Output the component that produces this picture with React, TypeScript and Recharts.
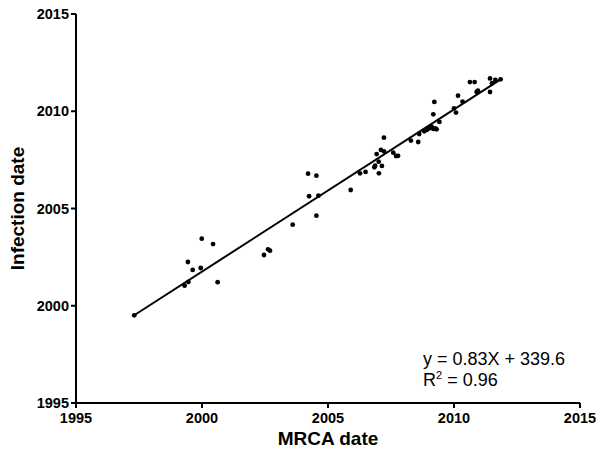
import React from 'react';
import { ScatterChart, Scatter, XAxis, YAxis, ReferenceLine } from 'recharts';

const mrcaDates = [
  1997.31, 1999.31, 1999.46, 1999.44, 1999.63, 1999.95, 1999.99, 2000.44, 2000.62,
  2002.46, 2002.62, 2002.70, 2003.60, 2004.21, 2004.54, 2004.25, 2004.62, 2004.54,
  2005.90, 2006.27, 2006.49, 2006.84, 2006.87, 2007.02, 2007.14, 2006.93, 2007.01,
  2007.10, 2007.22, 2007.22, 2007.59, 2007.70, 2007.78, 2008.29, 2008.58, 2008.62,
  2008.82, 2008.92, 2009.02, 2009.11, 2009.18, 2009.26, 2009.31, 2009.18, 2009.22,
  2009.42, 2010.00, 2010.08, 2010.16, 2010.34, 2010.63, 2010.82, 2010.90, 2010.95,
  2011.43, 2011.43, 2011.51, 2011.64, 2011.85,
];
const infectionDates = [
  1999.51, 2001.03, 2001.22, 2002.25, 2001.84, 2001.94, 2003.45, 2003.17, 2001.21,
  2002.61, 2002.90, 2002.83, 2004.17, 2006.79, 2006.69, 2005.63, 2005.66, 2004.63,
  2005.95, 2006.81, 2006.88, 2007.12, 2007.20, 2006.81, 2007.19, 2007.80, 2007.41,
  2008.01, 2007.94, 2008.64, 2007.87, 2007.70, 2007.71, 2008.49, 2008.42, 2008.83,
  2008.97, 2009.04, 2009.12, 2009.21, 2009.09, 2009.12, 2009.07, 2009.84, 2010.48,
  2009.45, 2010.15, 2009.93, 2010.80, 2010.49, 2011.50, 2011.50, 2010.99, 2011.06,
  2011.69, 2010.99, 2011.44, 2011.61, 2011.64,
];
const fitX = [1997.31, 2011.85];
const fitY = [1999.51, 2011.64];
const ticks = [1995, 2000, 2005, 2010, 2015];

const points = mrcaDates.map((x, i) => ({ x, y: infectionDates[i] }));

const FONT = '"Liberation Sans", Arial, sans-serif';
const tickStyle = { fill: '#000', fontSize: 14.5, fontWeight: 'bold', fontFamily: FONT };

const Dot = (props: any) => <circle cx={props.cx} cy={props.cy} r={2.4} fill="#000" />;

export default function App() {
  return (
    <div style={{ position: 'relative', width: 597, height: 453, fontFamily: FONT, background: '#fff' }}>
      <style>{'html,body{margin:0;padding:0;overflow:hidden;}'}</style>
      <ScatterChart width={597} height={453} margin={{ top: 14, right: 17, bottom: 0, left: 0 }}>
        <XAxis
          type="number"
          dataKey="x"
          domain={[1995, 2015]}
          ticks={ticks}
          allowDataOverflow
          height={50}
          stroke="#000"
          strokeWidth={2}
          tickSize={5}
          tickMargin={5}
          tick={tickStyle}
          tickLine={{ stroke: '#000', strokeWidth: 2 }}
          label={{
            value: 'MRCA date',
            position: 'insideBottom',
            offset: 8,
            style: { fill: '#000', fontSize: 19, fontWeight: 'bold', fontFamily: FONT },
          }}
        />
        <YAxis
          type="number"
          dataKey="y"
          domain={[1995, 2015]}
          ticks={ticks}
          allowDataOverflow
          width={76}
          stroke="#000"
          strokeWidth={2}
          tickSize={5}
          tickMargin={2}
          tick={tickStyle}
          tickLine={{ stroke: '#000', strokeWidth: 2 }}
          label={{
            value: 'Infection date',
            angle: -90,
            position: 'insideLeft',
            offset: 17,
            style: { textAnchor: 'middle', fill: '#000', fontSize: 19, fontWeight: 'bold', fontFamily: FONT },
          }}
        />
        <ReferenceLine
          segment={[
            { x: fitX[0], y: fitY[0] },
            { x: fitX[1], y: fitY[1] },
          ]}
          stroke="#000"
          strokeWidth={2}
        />
        <Scatter data={points} fill="#000" shape={Dot} isAnimationActive={false} />
      </ScatterChart>
      <div
        style={{
          position: 'absolute',
          left: 423,
          top: 347,
          fontSize: 18,
          lineHeight: '24px',
          color: '#000',
          whiteSpace: 'nowrap',
          fontFamily: FONT,
        }}
      >
        <div>y = 0.83X + 339.6</div>
        <div style={{ marginTop: -3 }}>
          R<sup style={{ fontSize: 11, verticalAlign: 'top', lineHeight: '14px' }}>2</sup> = 0.96
        </div>
      </div>
    </div>
  );
}
